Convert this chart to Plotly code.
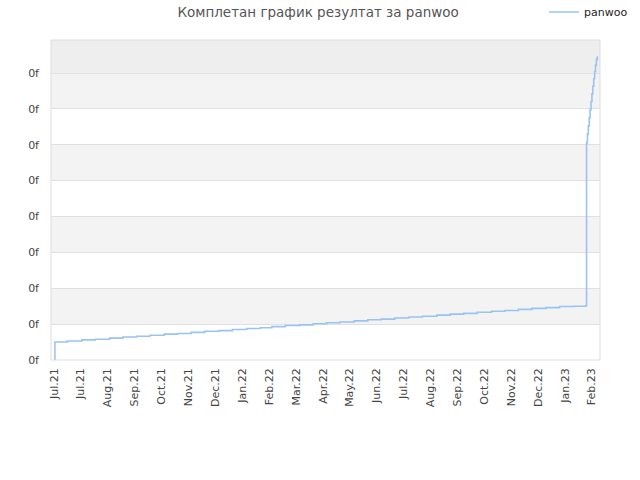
import plotly.graph_objects as go

dates = [
    "2021-07-01", "2021-07-02", "2021-07-16", "2021-08-01", "2021-08-16",
    "2021-09-01", "2021-09-16", "2021-10-01", "2021-10-16", "2021-11-01",
    "2021-11-16", "2021-12-01", "2021-12-16", "2022-01-01", "2022-01-16",
    "2022-02-01", "2022-02-16", "2022-03-01", "2022-03-16", "2022-04-01",
    "2022-04-16", "2022-05-01", "2022-05-16", "2022-06-01", "2022-06-16",
    "2022-07-01", "2022-07-16", "2022-08-01", "2022-08-16", "2022-09-01",
    "2022-09-16", "2022-10-01", "2022-10-16", "2022-11-01", "2022-11-16",
    "2022-12-01", "2022-12-16", "2023-01-01", "2023-01-16", "2023-02-01",
    "2023-02-14", "2023-02-15", "2023-02-16", "2023-02-17", "2023-02-18",
    "2023-02-19", "2023-02-20", "2023-02-21", "2023-02-22", "2023-02-23",
    "2023-02-24", "2023-02-25", "2023-02-26", "2023-02-27",
]
values = [
    0.00, 0.50, 0.53, 0.56, 0.58,
    0.61, 0.64, 0.66, 0.69, 0.72,
    0.74, 0.77, 0.80, 0.82, 0.85,
    0.88, 0.90, 0.93, 0.96, 0.98,
    1.01, 1.04, 1.06, 1.09, 1.12,
    1.14, 1.17, 1.20, 1.22, 1.25,
    1.28, 1.30, 1.33, 1.36, 1.38,
    1.41, 1.44, 1.46, 1.49, 1.50,
    1.51, 6.06, 6.30, 6.52, 6.75,
    6.98, 7.20, 7.42, 7.63, 7.84,
    8.04, 8.22, 8.38, 8.47,
]

tick_dates = [
    "2021-07-01", "2021-07-31", "2021-08-30", "2021-09-29", "2021-10-29",
    "2021-11-28", "2021-12-28", "2022-01-27", "2022-02-26", "2022-03-28",
    "2022-04-27", "2022-05-27", "2022-06-26", "2022-07-26", "2022-08-25",
    "2022-09-24", "2022-10-24", "2022-11-23", "2022-12-23", "2023-01-22",
    "2023-02-21",
]
tick_labels = [
    "Jul.21", "Jul.21", "Aug.21", "Sep.21", "Oct.21", "Nov.21", "Dec.21",
    "Jan.22", "Feb.22", "Mar.22", "Apr.22", "May.22", "Jun.22", "Jul.22",
    "Aug.22", "Sep.22", "Oct.22", "Nov.22", "Dec.22", "Jan.23", "Feb.23",
]
y_ticks = [0, 1, 2, 3, 4, 5, 6, 7, 8]
y_labels = ["0f"] * 9
y_top = 8.92

fig = go.Figure()
fig.add_trace(go.Scatter(
    x=dates, y=values, mode="lines", name="panwoo",
    line=dict(color="#99c4f2", width=1.6, shape="hv"),
))

shapes = []
for lo in [1, 3, 5, 7]:
    shapes.append(dict(type="rect", xref="paper", yref="y", x0=0, x1=1,
                       y0=lo, y1=lo + 1, fillcolor="#f3f3f3",
                       line=dict(width=0), layer="below"))
shapes.append(dict(type="rect", xref="paper", yref="y", x0=0, x1=1,
                   y0=8, y1=y_top, fillcolor="#eeeeee",
                   line=dict(width=0), layer="below"))
shapes.append(dict(type="rect", xref="paper", yref="paper", x0=0, x1=1,
                   y0=0, y1=1, line=dict(color="#dddddd", width=1),
                   fillcolor="rgba(0,0,0,0)", layer="above"))

fig.update_layout(
    width=640, height=480,
    margin=dict(l=51, r=40, t=40, b=120, autoexpand=False),
    paper_bgcolor="white", plot_bgcolor="white",
    font=dict(family="DejaVu Sans", size=11, color="#444444"),
    title=dict(text="Комплетан график резултат за panwoo", x=0.497,
               xanchor="center", y=0.975, yanchor="middle",
               font=dict(family="DejaVu Sans", size=13.5, color="#555555")),
    showlegend=True,
    legend=dict(x=0.898, xanchor="left", y=1.0875, yanchor="middle",
                font=dict(family="DejaVu Sans", size=11, color="#222222"),
                bgcolor="rgba(0,0,0,0)", itemwidth=30),
    shapes=shapes,
    xaxis=dict(type="date", range=["2021-06-27 16:00", "2023-03-02"],
               tickvals=tick_dates, ticktext=tick_labels, tickangle=-90,
               showgrid=False, zeroline=False, showline=False,
               ticks="", ticklabelstandoff=5,
               tickfont=dict(size=11, color="#444444")),
    yaxis=dict(range=[0, y_top], tickvals=y_ticks, ticktext=y_labels,
               showgrid=True, gridcolor="#e0e0e0", gridwidth=1,
               zeroline=False, showline=False, ticks="",
               ticklabelstandoff=11,
               tickfont=dict(size=11, color="#444444")),
)

fig.write_html("out.html",
               config={"displayModeBar": False},
               post_script="document.body.style.margin='0';")
